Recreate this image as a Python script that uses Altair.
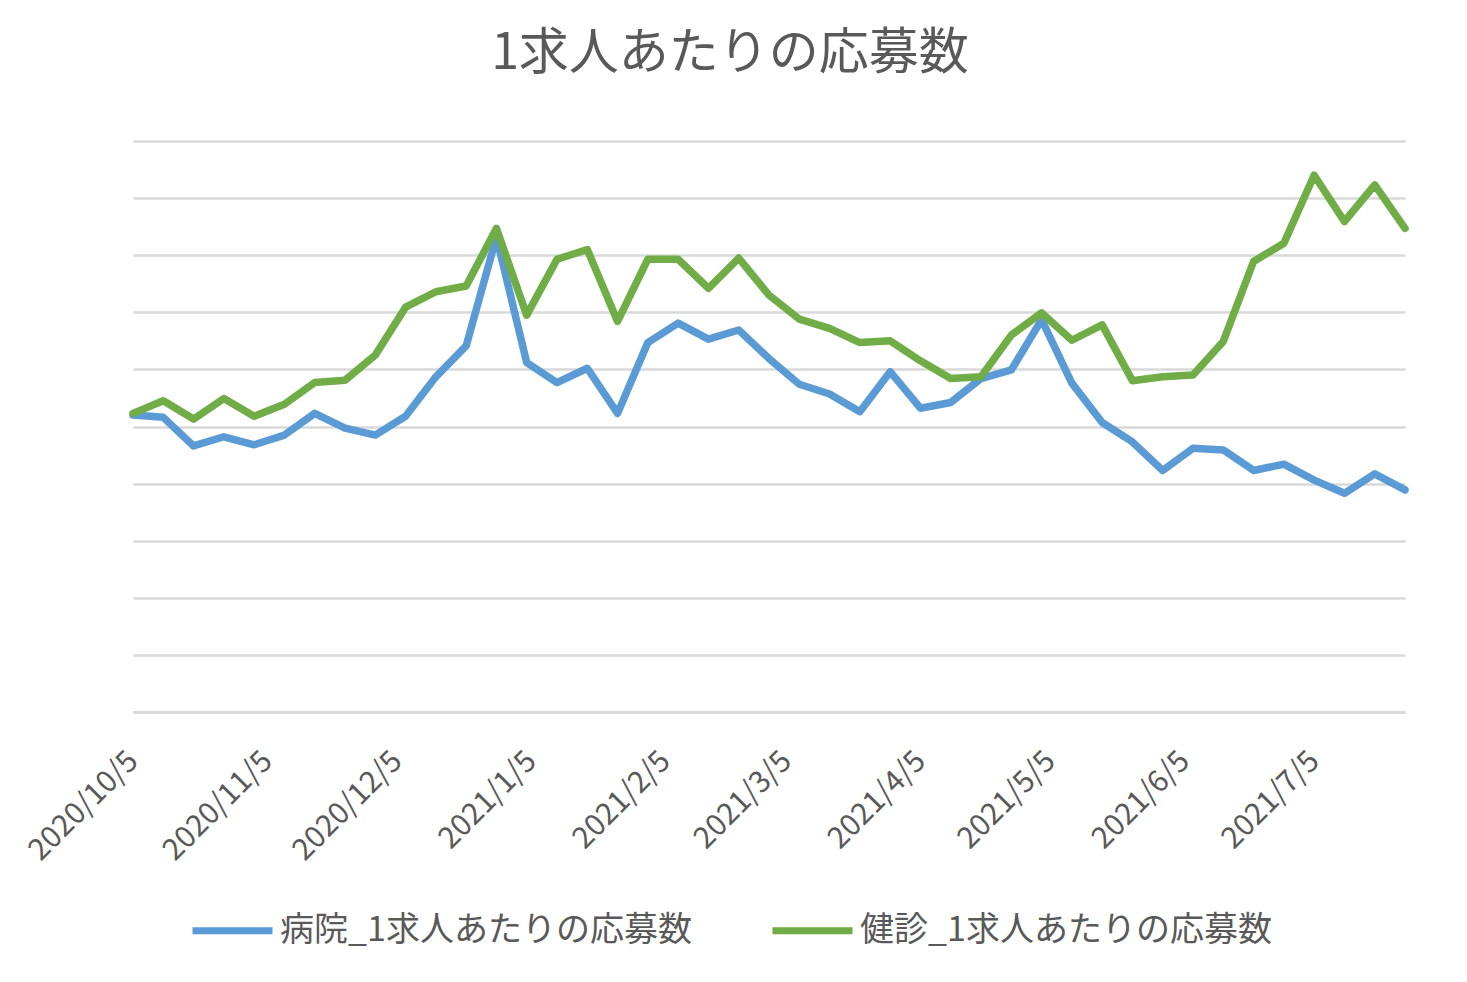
import altair as alt
import pandas as pd

dates = pd.date_range("2020-10-05", periods=43, freq="7D").strftime("%Y-%m-%d").tolist()

hospital = [5.20, 5.16, 4.66, 4.82, 4.68, 4.85, 5.23, 4.97, 4.85, 5.18,
            5.87, 6.41, 8.32, 6.12, 5.77, 6.02, 5.23, 6.47, 6.81, 6.53,
            6.69, 6.19, 5.74, 5.57, 5.26, 5.96, 5.32, 5.42, 5.84, 5.99,
            6.87, 5.76, 5.07, 4.73, 4.23, 4.62, 4.59, 4.23, 4.34, 4.06,
            3.83, 4.17, 3.89]
checkup = [5.23, 5.45, 5.13, 5.49, 5.18, 5.39, 5.77, 5.81, 6.25, 7.09,
           7.36, 7.46, 8.47, 6.95, 7.93, 8.10, 6.84, 7.93, 7.93, 7.42,
           7.95, 7.30, 6.88, 6.72, 6.47, 6.50, 6.15, 5.84, 5.87, 6.60,
           6.99, 6.51, 6.78, 5.80, 5.87, 5.90, 6.49, 7.89, 8.21, 9.40,
           8.59, 9.23, 8.47]

series_names = ["病院_1求人あたりの応募数", "健診_1求人あたりの応募数"]
series_colors = ["#5B9BD5", "#70AD47"]
tick_dates = ["2020-10-05", "2020-11-05", "2020-12-05", "2021-01-05", "2021-02-05",
              "2021-03-05", "2021-04-05", "2021-05-05", "2021-06-05", "2021-07-05"]

rows = []
for d, v in zip(dates, hospital):
    rows.append({"date": d, "value": v, "series": series_names[0]})
for d, v in zip(dates, checkup):
    rows.append({"date": d, "value": v, "series": series_names[1]})
df = pd.DataFrame(rows)

tick_ms = [int(pd.Timestamp(t, tz="UTC").timestamp() * 1000) for t in tick_dates]
dom = [int(pd.Timestamp(dates[0], tz="UTC").timestamp() * 1000),
       int(pd.Timestamp(dates[-1], tz="UTC").timestamp() * 1000)]

FONT = "Noto Sans CJK JP"
TXT = "#595959"

label_expr = ("utcyear(datum.value) + '/' + (utcmonth(datum.value) + 1) + '/' + utcdate(datum.value)")

chart = alt.Chart(df).mark_line(strokeWidth=7.5, strokeJoin="round", strokeCap="round").encode(
    x=alt.X("date:T",
            scale=alt.Scale(type="utc", domain=dom, nice=False),
            axis=alt.Axis(values=tick_ms, labelExpr=label_expr,
                          labelAngle=-45, labelAlign="right", labelBaseline="middle",
                          labelPadding=44, labelFontSize=30, labelColor=TXT, labelFont=FONT,
                          ticks=False, grid=False, domainColor="#d9d9d9", domainWidth=2.5,
                          title=None, labelOverlap=False, labelFlush=False)),
    y=alt.Y("value:Q",
            scale=alt.Scale(domain=[0, 10], nice=False, zero=True),
            axis=alt.Axis(values=list(range(0, 11)), labels=False, ticks=False, domain=False,
                          grid=True, gridColor="#d9d9d9", gridWidth=2.5, title=None)),
    color=alt.Color("series:N",
                    scale=alt.Scale(domain=series_names, range=series_colors),
                    legend=alt.Legend(title=None, orient="none", direction="horizontal",
                                      legendX=56, legendY=746,
                                      symbolType="stroke", symbolSize=6400, symbolStrokeWidth=7,
                                      labelFontSize=34, labelFont=FONT, labelColor=TXT,
                                      labelLimit=600, labelOffset=4, columnPadding=66)),
).properties(
    width=1272,
    height=571,
    title=alt.Title("1求人あたりの応募数", fontSize=50, font=FONT, fontWeight="normal",
                    color=TXT, anchor="middle", dx=-39, offset=62),
    padding={"left": 125, "top": 133, "right": 40, "bottom": 265},
    autosize=alt.AutoSizeParams(type="none"),
).configure(background="white").configure_view(strokeWidth=0, stroke=None)

chart.save("out.html", embed_options={"renderer": "svg", "actions": False})
